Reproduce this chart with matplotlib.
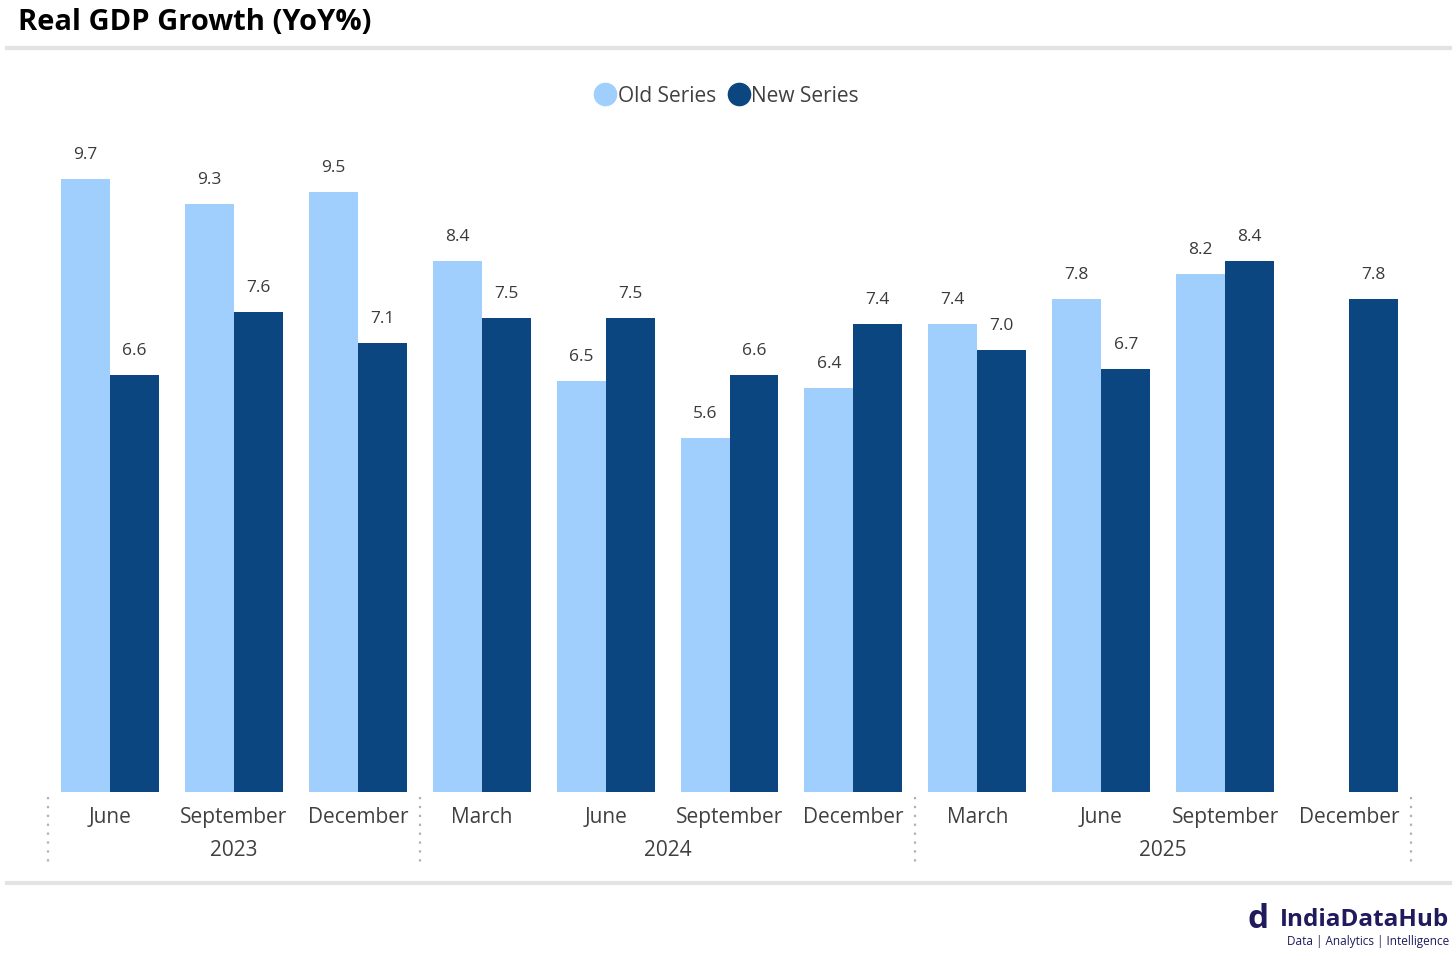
import numpy as np
import matplotlib
matplotlib.use("Agg")
import matplotlib.pyplot as plt
from matplotlib.lines import Line2D

plt.rcParams['font.family'] = ['Open Sans', 'DejaVu Sans']

months = ["June", "September", "December", "March", "June", "September",
          "December", "March", "June", "September", "December"]
years = ["2023", "2024", "2025"]
year_spans = [(-0.5, 2.5), (2.5, 6.5), (6.5, 10.5)]
old_series = [9.7, 9.3, 9.5, 8.4, 6.5, 5.6, 6.4, 7.4, 7.8, 8.2, np.nan]
new_series = [6.6, 7.6, 7.1, 7.5, 7.5, 6.6, 7.4, 7.0, 6.7, 8.4, 7.8]

light = '#a0cffd'
dark = '#0b4680'
W, H = 1456, 960

fig = plt.figure(figsize=(W / 100, H / 100), dpi=100)
ax = fig.add_axes([48 / W, 1 - 792 / H, (1411 - 48) / W, (792 - 130) / H])

x = np.arange(len(months))
w = 0.395
ax.bar(x - w / 2, old_series, w, color=light)
ax.bar(x + w / 2, new_series, w, color=dark)

# value labels
for xs, vals in [(x - w / 2, old_series), (x + w / 2, new_series)]:
    for xi, v in zip(xs, vals):
        if np.isnan(v):
            continue
        ax.annotate(f"{v:.1f}", (xi, v), xytext=(0, 11.5), textcoords='offset points',
                    ha='center', va='bottom', fontsize=12.5, color='#3a3a3a')

ax.set_xlim(-0.5, 10.5)
ax.set_ylim(0, (792 - 130) / 63.2)
ax.axis('off')

# month and year labels
for xi, m in zip(x, months):
    ax.text(xi, -0.40, m, ha='center', va='center', fontsize=15, color='#404040')
for (a, b), yr in zip(year_spans, years):
    ax.text((a + b) / 2, -0.92, yr, ha='center', va='center', fontsize=15, color='#404040')
for xs in [-0.5, 2.5, 6.5, 10.5]:
    ax.plot([xs, xs], [-0.08, -1.2], ls=(0, (1, 3)), color='#b0b0b0', lw=1.6,
            clip_on=False)

# title and separators
fig.text(18 / W, 1 - 23 / H, "Real GDP Growth (YoY%)", fontsize=21, fontweight='bold',
         ha='left', va='center', color='black')
fig.add_artist(Line2D([7 / W, 1450 / W], [1 - 48 / H] * 2, color='#e3e3e3', lw=3))
fig.add_artist(Line2D([7 / W, 1450 / W], [1 - 883 / H] * 2, color='#e3e3e3', lw=3))

# legend
handles = [Line2D([], [], marker='o', ls='', color=light, markersize=16),
           Line2D([], [], marker='o', ls='', color=dark, markersize=16)]
fig.legend(handles, ["Old Series", "New Series"], loc='center', ncol=2,
           bbox_to_anchor=(727 / W, 1 - 96 / H), frameon=False, fontsize=15,
           handlelength=1.0, handletextpad=0.1, columnspacing=0.6,
           labelcolor='#404040')

# logo
fig.text(1449 / W, 1 - 920 / H, "IndiaDataHub", fontsize=17.5, fontweight='bold',
         color='#1f1b5c', ha='right', va='center')
fig.text(1449 / W, 1 - 942 / H, "Data | Analytics | Intelligence", fontsize=8.5,
         color='#1f1b5c', ha='right', va='center')
fig.text(1258 / W, 1 - 920 / H, "d", fontsize=24, fontweight='bold',
         color='#1f1b5c', ha='center', va='center')

fig.savefig("out.png", dpi=100, facecolor='white')
